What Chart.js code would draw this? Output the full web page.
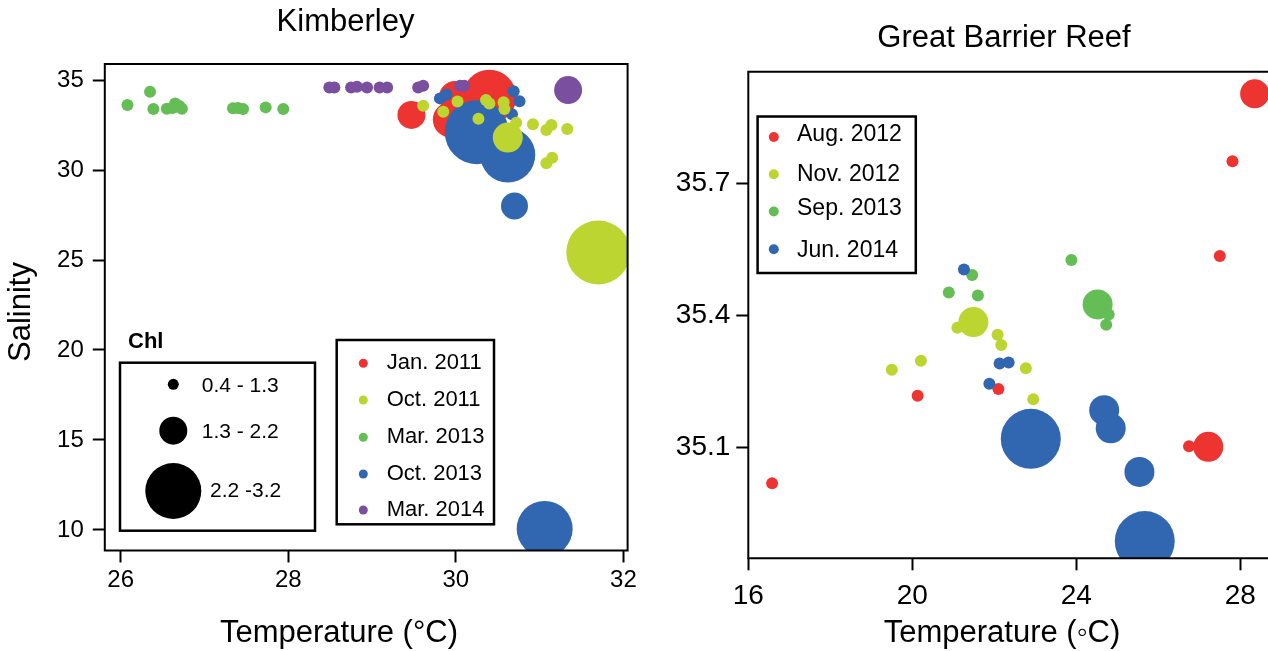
<!DOCTYPE html>
<html>
<head>
<meta charset="utf-8">
<script src="https://cdn.jsdelivr.net/npm/chart.js@4.4.1/dist/chart.umd.min.js"></script>
<style>
  html, body { margin: 0; padding: 0; background: #fff; width: 1268px; height: 651px; overflow: hidden; }
  canvas { position: absolute; top: 0; }
  #kim { left: 0; }
  #gbr { left: 640px; }
</style>
</head>
<body>
<canvas id="kim" width="640" height="651"></canvas>
<canvas id="gbr" width="628" height="651"></canvas>
<script>
// ---------- Kimberley: rows are [temperature °C, salinity, chlorophyll] ----------
const kimJan2011 = [[30.40, 34.07, 2.7], [29.99, 34.05, 1.6], [29.94, 32.80, 1.8], [29.47, 33.06, 1.4]];
const kimOct2011 = [
  [29.61, 33.57, 0.6], [29.85, 33.24, 0.6], [30.02, 33.80, 0.6], [30.36, 33.89, 0.6],
  [30.40, 33.70, 0.6], [30.57, 33.76, 0.6], [30.58, 33.39, 0.6], [30.27, 32.85, 0.6],
  [30.62, 31.80, 1.5], [30.72, 32.62, 0.6], [30.92, 32.54, 0.6], [31.08, 32.22, 0.6],
  [31.14, 32.50, 0.6], [31.33, 32.28, 0.6], [31.08, 30.37, 0.6], [31.15, 30.68, 0.6],
  [31.70, 25.42, 3.2]
];
const kimMar2013 = [
  [26.08, 33.61, 0.6], [26.35, 34.35, 0.6], [26.39, 33.39, 0.6], [26.55, 33.40, 0.6],
  [26.62, 33.45, 0.6], [26.65, 33.70, 0.6], [26.70, 33.55, 0.6], [26.73, 33.40, 0.6],
  [27.34, 33.43, 0.6], [27.40, 33.45, 0.6], [27.46, 33.39, 0.6], [27.73, 33.48, 0.6],
  [27.94, 33.39, 0.6]
];
const kimOct2013 = [
  [30.25, 32.10, 3.2], [30.62, 30.83, 2.75], [31.06, 10.06, 2.8], [30.70, 28.00, 1.35],
  [29.81, 33.98, 0.6], [29.89, 34.20, 0.6], [30.69, 34.37, 0.6], [30.76, 33.82, 0.6],
  [30.67, 33.10, 0.6]
];
const kimMar2014 = [
  [28.49, 34.59, 0.6], [28.55, 34.59, 0.6], [28.75, 34.59, 0.6], [28.82, 34.62, 0.6],
  [28.94, 34.59, 0.6], [29.09, 34.59, 0.6], [29.18, 34.59, 0.6], [29.55, 34.59, 0.6],
  [29.61, 34.68, 0.6], [30.05, 34.68, 0.6], [30.10, 34.68, 0.6], [31.34, 34.44, 1.4]
];
const kimSeries = ['Jan. 2011', 'Oct. 2011', 'Mar. 2013', 'Oct. 2013', 'Mar. 2014'];
const kimTempTicks = [26, 28, 30, 32];
const kimSalTicks = [10, 15, 20, 25, 30, 35];

// ---------- Great Barrier Reef: rows are [temperature °C, salinity, chlorophyll] ----------
const gbrAug2012 = [
  [28.35, 35.903, 1.45], [27.81, 35.750, 0.6], [27.50, 35.535, 0.6], [26.75, 35.103, 0.6],
  [27.22, 35.102, 1.5], [22.10, 35.233, 0.6], [20.13, 35.218, 0.6], [16.58, 35.019, 0.6]
];
const gbrNov2012 = [
  [21.49, 35.385, 1.5], [21.10, 35.372, 0.6], [22.08, 35.356, 0.6], [22.17, 35.333, 0.6],
  [20.21, 35.297, 0.6], [19.50, 35.277, 0.6], [22.77, 35.280, 0.6], [22.95, 35.210, 0.6]
];
const gbrSep2013 = [
  [23.88, 35.526, 0.6], [21.46, 35.492, 0.6], [20.89, 35.452, 0.6], [21.60, 35.445, 0.6],
  [24.52, 35.425, 1.5], [24.79, 35.402, 0.6], [24.73, 35.379, 0.6]
];
const gbrJun2014 = [
  [21.26, 35.504, 0.6], [22.13, 35.291, 0.6], [22.35, 35.293, 0.6], [21.88, 35.245, 0.6],
  [22.89, 35.120, 3.0], [24.68, 35.185, 1.5], [24.84, 35.144, 1.5], [25.54, 35.045, 1.5],
  [25.67, 34.888, 3.0]
];
const gbrSeries = ['Aug. 2012', 'Nov. 2012', 'Sep. 2013', 'Jun. 2014'];
const gbrTempTicks = [16, 20, 24, 28];
const gbrSalTicks = [35.1, 35.4, 35.7];

// Chl size classes shown in the size key, with a representative value for each
const chlClasses = ['0.4 - 1.3', '1.3 - 2.2', '2.2 -3.2'];
const chlClassValues = [0.55, 1.4, 2.8];

// ---------- styling ----------
const FONT = '"Liberation Sans", Arial, Helvetica, sans-serif';
const kimColors = ['#EE3430', '#BDD531', '#65BD56', '#3166B0', '#7B4F9F'];
const gbrColors = ['#EE3430', '#BDD531', '#65BD56', '#3166B0'];

// bubble radius in pixels for a chlorophyll value
function chlRadius(c) { return 10 * c; }
function toPoints(rows) { return rows.map(([t, s, c]) => ({ x: t, y: s, r: chlRadius(c) })); }

function makeDataset(label, rows, color, order) {
  return {
    label, data: toPoints(rows), order,
    backgroundColor: color, borderWidth: 0,
    hoverBackgroundColor: color, hoverBorderWidth: 0, hoverRadius: 0
  };
}

function drawText(ctx, str, x, y, size, align, weight) {
  ctx.font = (weight || 'normal') + ' ' + size + 'px ' + FONT;
  ctx.textAlign = align || 'left';
  ctx.textBaseline = 'middle';
  ctx.fillStyle = '#000';
  ctx.fillText(str, x, y);
}

function axisScale(min, max, ticks, fmt, fontSize, pad, fixed, horizontal) {
  return {
    type: 'linear', min, max,
    afterBuildTicks: s => { s.ticks = ticks.map(v => ({ value: v })); },
    afterFit: s => { if (horizontal) s.height = fixed; else s.width = fixed; },
    grid: { display: true, drawOnChartArea: false, drawTicks: true, tickLength: 12, tickWidth: 2, tickColor: '#000' },
    border: { display: false },
    ticks: { color: '#000', font: { family: FONT, size: fontSize }, padding: pad, maxRotation: 0, autoSkip: false, callback: fmt }
  };
}

// ---------- Kimberley panel ----------
const kimDecor = {
  id: 'kimDecor',
  afterDatasetsDraw(chart) {
    const { ctx, chartArea: a } = chart;
    ctx.save();
    ctx.strokeStyle = '#000';
    ctx.lineWidth = 2;
    ctx.strokeRect(a.left, a.top, a.right - a.left, a.bottom - a.top);
    ctx.restore();
  },
  afterDraw(chart) {
    const ctx = chart.ctx;
    ctx.save();
    drawText(ctx, 'Kimberley', 345.5, 22, 31, 'center');
    drawText(ctx, 'Temperature (°C)', 339, 633, 31, 'center');
    ctx.save();
    ctx.translate(21, 312);
    ctx.rotate(-Math.PI / 2);
    drawText(ctx, 'Salinity', 0, 0, 31, 'center');
    ctx.restore();

    // size key
    drawText(ctx, 'Chl', 128, 342, 22, 'left', 'bold');
    ctx.strokeStyle = '#000';
    ctx.lineWidth = 2.5;
    ctx.strokeRect(120, 362.7, 195, 168);
    const keyY = [384.3, 430.7, 491];
    const keyTextX = [201.7, 201.7, 210];
    const keyTextY = [386.5, 432, 491];
    chlClassValues.forEach((v, i) => {
      ctx.beginPath();
      ctx.fillStyle = '#000';
      ctx.arc(173.3, keyY[i], chlRadius(v), 0, Math.PI * 2);
      ctx.fill();
      drawText(ctx, chlClasses[i], keyTextX[i], keyTextY[i], 21, 'left');
    });

    // series key
    ctx.strokeRect(336.7, 340, 157.3, 184.3);
    const rowY = [363.3, 400, 437.3, 474, 510];
    kimSeries.forEach((lab, i) => {
      ctx.beginPath();
      ctx.fillStyle = kimColors[i];
      ctx.arc(363.3, rowY[i], 4.5, 0, Math.PI * 2);
      ctx.fill();
      drawText(ctx, lab, 386.7, rowY[i], 22, 'left');
    });
    ctx.restore();
  }
};

new Chart(document.getElementById('kim'), {
  type: 'bubble',
  data: {
    datasets: [
      makeDataset(kimSeries[0], kimJan2011, kimColors[0], 5),
      makeDataset(kimSeries[1], kimOct2011, kimColors[1], 2),
      makeDataset(kimSeries[2], kimMar2013, kimColors[2], 3),
      makeDataset(kimSeries[3], kimOct2013, kimColors[3], 4),
      makeDataset(kimSeries[4], kimMar2014, kimColors[4], 1)
    ]
  },
  options: {
    responsive: false, animation: false, devicePixelRatio: 1,
    events: [],
    layout: { autoPadding: false, padding: { top: 64, right: 12.4, bottom: 0, left: 0 } },
    plugins: { legend: { display: false }, tooltip: { enabled: false } },
    scales: {
      x: axisScale(25.81, 32.05, kimTempTicks, v => String(v), 24, 3, 100.5, true),
      y: axisScale(8.86, 35.89, kimSalTicks, v => String(v), 24, 9, 104.8, false)
    }
  },
  plugins: [kimDecor]
});

// ---------- Great Barrier Reef panel ----------
const gbrDecor = {
  id: 'gbrDecor',
  afterDatasetsDraw(chart) {
    const { ctx, chartArea: a } = chart;
    ctx.save();
    ctx.strokeStyle = '#000';
    ctx.lineWidth = 2;
    ctx.beginPath();
    ctx.moveTo(a.right + 2, a.top);
    ctx.lineTo(a.left, a.top);
    ctx.lineTo(a.left, a.bottom);
    ctx.lineTo(a.right + 2, a.bottom);
    ctx.stroke();
    ctx.restore();
  },
  afterDraw(chart) {
    const ctx = chart.ctx;
    ctx.save();
    drawText(ctx, 'Great Barrier Reef', 364, 38, 31, 'center');
    drawText(ctx, 'Temperature (◦C)', 362, 633, 31, 'center');
    ctx.strokeStyle = '#000';
    ctx.lineWidth = 2.5;
    ctx.strokeRect(117.6, 116.5, 158.2, 156.5);
    const dotY = [137, 174.3, 211.5, 249.3];
    const txtY = [134.4, 175, 208.7, 251];
    gbrSeries.forEach((lab, i) => {
      ctx.beginPath();
      ctx.fillStyle = gbrColors[i];
      ctx.arc(133.8, dotY[i], 5, 0, Math.PI * 2);
      ctx.fill();
      drawText(ctx, lab, 157, txtY[i], 23, 'left');
    });
    ctx.restore();
  }
};

new Chart(document.getElementById('gbr'), {
  type: 'bubble',
  data: {
    datasets: [
      makeDataset(gbrSeries[0], gbrAug2012, gbrColors[0], 4),
      makeDataset(gbrSeries[1], gbrNov2012, gbrColors[1], 3),
      makeDataset(gbrSeries[2], gbrSep2013, gbrColors[2], 2),
      makeDataset(gbrSeries[3], gbrJun2014, gbrColors[3], 1)
    ].map(d => Object.assign(d, { clip: 0 }))
  },
  options: {
    responsive: false, animation: false, devicePixelRatio: 1,
    events: [],
    layout: { autoPadding: false, padding: { top: 71.7, right: 0, bottom: 0, left: 0 } },
    plugins: { legend: { display: false }, tooltip: { enabled: false } },
    scales: {
      x: axisScale(16, 28.676, gbrTempTicks, v => String(v), 28, 9, 92.7, true),
      y: axisScale(34.849, 35.953, gbrSalTicks, v => v.toFixed(1), 28, 6, 108.3, false)
    }
  },
  plugins: [gbrDecor]
});
</script>
</body>
</html>
